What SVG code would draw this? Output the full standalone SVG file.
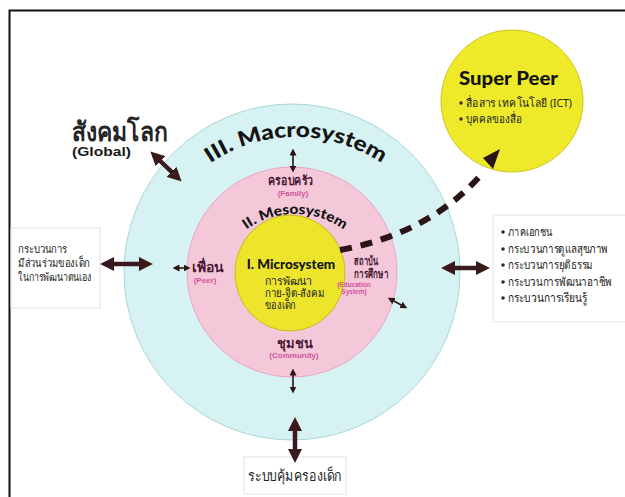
<svg xmlns="http://www.w3.org/2000/svg" width="625" height="497" viewBox="0 0 625 497">
  <style>
    .th { font-family: "Noto Sans", "DejaVu Sans", sans-serif; fill: #242424; }
    .hd { font-family: "Noto Sans", "DejaVu Sans", sans-serif; font-weight: bold; fill: #4a1733; }
    .sub { font-family: "Liberation Sans", Arial, sans-serif; font-weight: bold; fill: #d2559a; text-anchor: middle; }
    .title { font-family: Lato, "Liberation Sans", Arial, sans-serif; font-weight: 900; fill: #141414; }
    .box { fill: #ffffff; stroke: #e2e2e2; stroke-width: 1; }
    .dot { fill: #2b2b2b; }
    .big { stroke: #3a1a1c; stroke-width: 4.5; fill: none; marker-start: url(#hb); marker-end: url(#hb); }
    .small { stroke: #2a1416; stroke-width: 1.6; fill: none; marker-start: url(#hs); marker-end: url(#hs); }
  </style>
  <defs>
    <marker id="hb" viewBox="0 0 14 14" refX="9" refY="7" markerWidth="14" markerHeight="14" markerUnits="userSpaceOnUse" orient="auto-start-reverse">
      <path d="M0 0 L14 7 L0 14 Z" fill="#3a1a1c"/>
    </marker>
    <marker id="hs" viewBox="0 0 7 7" refX="4.5" refY="3.5" markerWidth="7" markerHeight="7" markerUnits="userSpaceOnUse" orient="auto-start-reverse">
      <path d="M0 0 L7 3.5 L0 7 Z" fill="#2a1416"/>
    </marker>
    <path id="macroArc" d="M 143 290 A 153 153 0 0 1 449 290"/>
    <path id="mesoArc" d="M 211 298 A 84 84 0 0 1 379 298"/>
  </defs>

  <!-- page background and frame -->
  <rect x="0" y="0" width="625" height="497" fill="#ffffff"/>
  <path d="M 9.5 497 L 9.5 10.5 L 625 10.5" fill="none" stroke="#111" stroke-width="2"/>

  <!-- nested system rings -->
  <g id="macrosystem">
    <circle cx="292" cy="272" r="168" fill="#d7f2f2" stroke="#a8d8d4" stroke-width="1"/>
    <text class="title" font-size="21"><textPath href="#macroArc" startOffset="50%" text-anchor="middle" textLength="182" lengthAdjust="spacingAndGlyphs">III. Macrosystem</textPath></text>
  </g>
  <g id="mesosystem">
    <circle cx="292" cy="272" r="105" fill="#f4c8d8" stroke="#e6a6c0" stroke-width="1"/>
  </g>
  <g id="microsystem">
    <ellipse cx="290" cy="273" rx="55" ry="58" fill="#ece52c" stroke="#c8bb1e" stroke-width="1"/>
    <text class="title" x="291" y="269" font-size="13.5" text-anchor="middle">I. Microsystem</text>
    <text class="th" x="265" y="285" font-size="11.5" textLength="47" lengthAdjust="spacingAndGlyphs">การพัฒนา</text>
    <text class="th" x="265" y="297" font-size="11.5" textLength="60" lengthAdjust="spacingAndGlyphs">กาย-จิต-สังคม</text>
    <text class="th" x="265" y="309" font-size="11.5" textLength="31" lengthAdjust="spacingAndGlyphs">ของเด็ก</text>
  </g>
  <g id="meso-title">
    <text class="title" font-size="14"><textPath href="#mesoArc" startOffset="50%" text-anchor="middle" textLength="104" lengthAdjust="spacingAndGlyphs">II. Mesosystem</textPath></text>
  </g>

  <!-- ring members -->
  <g id="family">
    <text class="hd" x="268" y="185" font-size="13" textLength="45" lengthAdjust="spacingAndGlyphs">ครอบครัว</text>
    <text class="sub" x="293" y="196" font-size="8">(Family)</text>
  </g>
  <g id="peer">
    <text class="hd" x="192" y="272" font-size="14">เพื่อน</text>
    <text class="sub" x="205" y="283" font-size="8">(Peer)</text>
  </g>
  <g id="education">
    <text class="hd" x="354" y="265" font-size="12.5" textLength="24" lengthAdjust="spacingAndGlyphs">สถาบัน</text>
    <text class="hd" x="354" y="278" font-size="12.5" textLength="34" lengthAdjust="spacingAndGlyphs">การศึกษา</text>
    <text class="sub" x="354" y="287" font-size="6.5" text-anchor="start">(Education</text>
    <text class="sub" x="354" y="294" font-size="6.5" text-anchor="start">System)</text>
  </g>
  <g id="community">
    <text class="hd" x="295" y="348" font-size="13" text-anchor="middle">ชุมชน</text>
    <text class="sub" x="294" y="358" font-size="8">(Community)</text>
  </g>

  <!-- outer labels and boxes -->
  <g id="global">
    <text class="th" x="72" y="141" font-size="27" font-weight="bold" fill="#141414" textLength="96" lengthAdjust="spacingAndGlyphs">สังคมโลก</text>
    <text x="72" y="156" font-family="Liberation Sans, Arial, sans-serif" font-weight="bold" font-size="12.5" fill="#1a1a1a" textLength="59" lengthAdjust="spacingAndGlyphs">(Global)</text>
  </g>
  <g id="super-peer">
    <circle cx="512" cy="101" r="71" fill="#eeea2a" stroke="#cfc41e" stroke-width="1"/>
    <text class="title" x="459" y="85" font-size="18" textLength="99" lengthAdjust="spacingAndGlyphs">Super Peer</text>
    <circle class="dot" cx="461" cy="103" r="1.7"/>
    <text class="th" x="466" y="107" font-size="11.5" textLength="106" lengthAdjust="spacingAndGlyphs">สื่อสาร เทคโนโลยี (ICT)</text>
    <circle class="dot" cx="461" cy="119" r="1.7"/>
    <text class="th" x="466" y="123" font-size="11.5" textLength="56" lengthAdjust="spacingAndGlyphs">บุคคลของสื่อ</text>
  </g>
  <g id="child-participation">
    <rect class="box" x="11" y="228" width="89" height="80"/>
    <text class="th" x="18" y="253" font-size="11.5" textLength="49" lengthAdjust="spacingAndGlyphs">กระบวนการ</text>
    <text class="th" x="18" y="267" font-size="11.5" textLength="72" lengthAdjust="spacingAndGlyphs">มีส่วนร่วมของเด็ก</text>
    <text class="th" x="18" y="281" font-size="11.5" textLength="74" lengthAdjust="spacingAndGlyphs">ในการพัฒนาตนเอง</text>
  </g>
  <g id="services">
    <rect class="box" x="493" y="215" width="140" height="107"/>
    <g class="th" font-size="12">
      <circle class="dot" cx="503" cy="232" r="1.8"/>
      <text x="508" y="236" textLength="44" lengthAdjust="spacingAndGlyphs">ภาคเอกชน</text>
      <circle class="dot" cx="503" cy="249" r="1.8"/>
      <text x="508" y="253" textLength="100" lengthAdjust="spacingAndGlyphs">กระบวนการดูแลสุขภาพ</text>
      <circle class="dot" cx="503" cy="265" r="1.8"/>
      <text x="508" y="269" textLength="85" lengthAdjust="spacingAndGlyphs">กระบวนการยุติธรรม</text>
      <circle class="dot" cx="503" cy="282" r="1.8"/>
      <text x="508" y="286" textLength="104" lengthAdjust="spacingAndGlyphs">กระบวนการพัฒนาอาชีพ</text>
      <circle class="dot" cx="503" cy="298" r="1.8"/>
      <text x="508" y="302" textLength="79" lengthAdjust="spacingAndGlyphs">กระบวนการเรียนรู้</text>
    </g>
  </g>
  <g id="child-protection">
    <rect class="box" x="244" y="457" width="102" height="37"/>
    <text class="th" x="248" y="481" font-size="14.5" textLength="94" lengthAdjust="spacingAndGlyphs">ระบบคุ้มครองเด็ก</text>
  </g>

  <!-- connectors -->
  <g id="connectors">
    <line class="big" x1="154" y1="155" x2="178" y2="178"/>
    <line class="big" x1="105" y1="264" x2="148" y2="264"/>
    <line class="big" x1="446" y1="268" x2="485" y2="268"/>
    <line class="big" x1="295" y1="422" x2="295" y2="458"/>
    <line class="small" x1="293" y1="151" x2="293" y2="170"/>
    <line class="small" x1="175" y1="268" x2="188" y2="268"/>
    <line class="small" x1="390" y1="299" x2="405" y2="307"/>
    <line class="small" x1="293" y1="371" x2="293" y2="391"/>
    <path d="M 340 250 Q 428 234 480 176" fill="none" stroke="#2a1416" stroke-width="6" stroke-dasharray="12 9"/>
    <polygon points="500,149 483,158 493,169" fill="#2a1416"/>
  </g>
</svg>
